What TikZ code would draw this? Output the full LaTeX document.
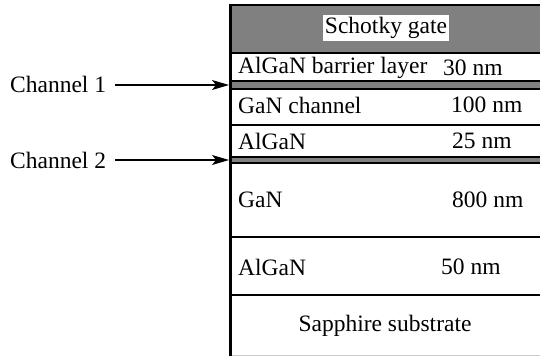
\documentclass[tikz,border=0pt]{standalone}
\usepackage{fontspec}
\setmainfont{Liberation Serif}
\usetikzlibrary{arrows.meta}
\begin{document}
\begin{tikzpicture}[x=1pt,y=-1pt,
  lbl/.style={font=\fontsize{23.5}{25}\selectfont, inner sep=0pt, anchor=west},
  sep/.style={line width=2.2pt},
  band/.style={fill=black!50},
  arr/.style={line width=1.4pt, -{Stealth[length=17pt,width=10pt,inset=4pt]}}]
\useasboundingbox (0,0) rectangle (540,356);
% gate
\fill[band] (230,5) rectangle (545,53);
% channel bands
\fill[band] (230,81) rectangle (545,89);
\fill[band] (230,157) rectangle (545,163);
% separators
\draw[sep] (230,5) -- (545,5);
\draw[sep] (230,53) -- (545,53);
\draw[sep] (230,81) -- (545,81);
\draw[sep] (230,89) -- (545,89);
\draw[sep] (230,125) -- (545,125);
\draw[sep] (230,157) -- (545,157);
\draw[sep] (230,163) -- (545,163);
\draw[sep] (230,237) -- (545,237);
\draw[sep] (230,295) -- (545,295);
\draw[black!20, line width=0.8pt] (230,355.5) -- (545,355.5);
\draw[line width=3pt] (230,4) -- (230,356);
% texts
\node[lbl, anchor=center, fill=white, inner sep=2pt] (gate) at (386,28) {Schotky gate};
\node[lbl] (l1) at (238,68) {AlGaN barrier layer};
\node[lbl] (t1) at (443,68) {30 nm};
\node[lbl] (l2) at (238,105) {GaN channel};
\node[lbl] (t2) at (451,105) {100 nm};
\node[lbl] (l3) at (238,141) {AlGaN};
\node[lbl] (t3) at (452,141) {25 nm};
\node[lbl] (l4) at (238,200) {GaN};
\node[lbl] (t4) at (452,200) {800 nm};
\node[lbl] (l5) at (238,267) {AlGaN};
\node[lbl] (t5) at (441,267) {50 nm};
\node[lbl, anchor=center] (sub) at (385,326) {Sapphire substrate};
% channel labels
\node[lbl] (c1) at (10,84) {Channel 1};
\node[lbl] (c2) at (10,160) {Channel 2};
\coordinate (e1) at (229,85);
\coordinate (e2) at (229,160);
\draw[arr] ([xshift=9pt]c1.east |- e1) -- (e1);
\draw[arr] ([xshift=9pt]c2.east |- e2) -- (e2);
\end{tikzpicture}
\end{document}
